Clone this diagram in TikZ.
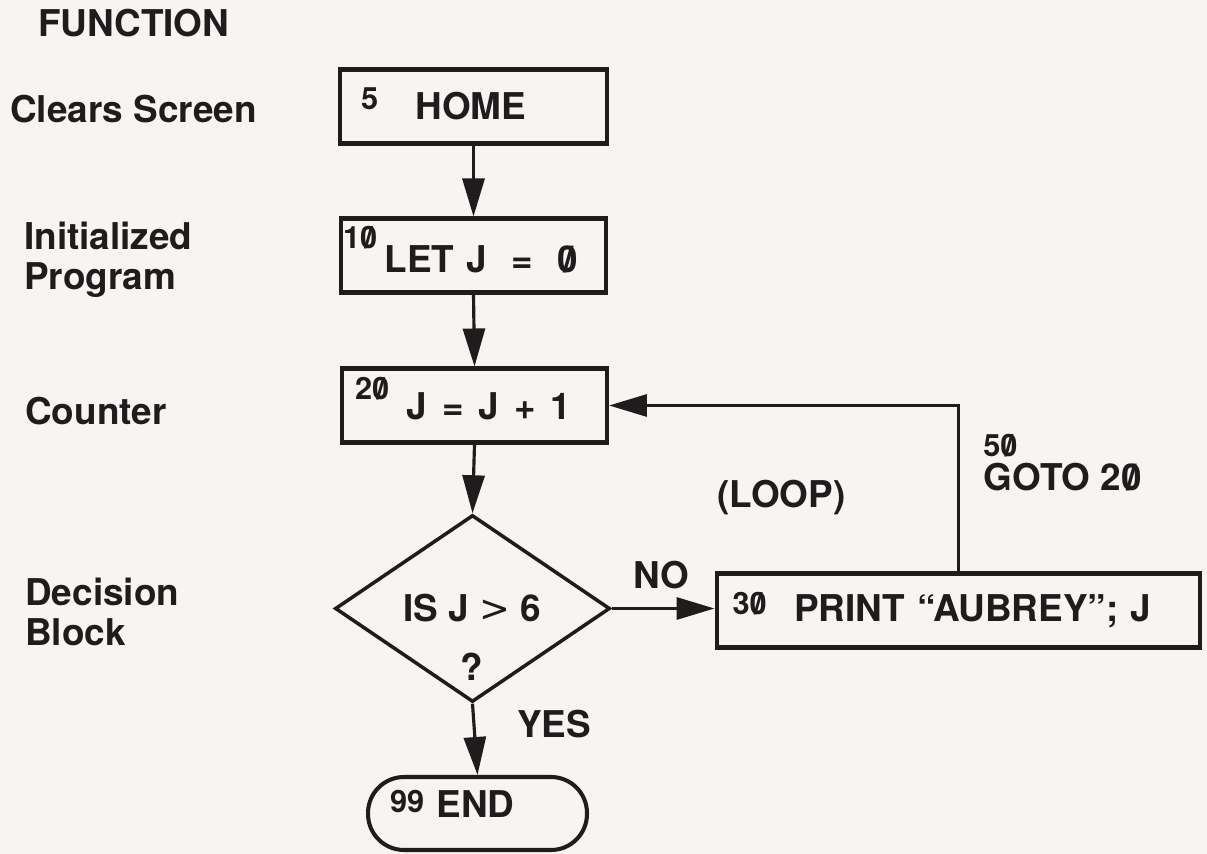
\documentclass[tikz,border=0pt]{standalone}
\usepackage{fontspec}
\setmainfont{TeX Gyre Heros}
\newfontfamily\symfont{DejaVu Sans}
\usetikzlibrary{arrows.meta,shapes.geometric}
\definecolor{paper}{RGB}{246,245,242}
\definecolor{ink}{RGB}{30,28,28}
\newcommand{\zr}{\ooalign{0\cr\hidewidth/\hidewidth\cr}}
\newcommand{\lno}[2]{\raisebox{#1}{\fontsize{17.5}{19}\selectfont #2}}

\begin{document}
\begin{tikzpicture}[x=0.02cm,y=-0.02cm,
every node/.style={text=ink,font=\bfseries\fontsize{21}{24}\selectfont},
stmt/.style={draw=ink,line width=2.3pt,minimum height=1.48cm,inner xsep=0.2cm,inner ysep=0pt,align=left,text depth=0pt},
decide/.style={diamond,draw=ink,line width=2pt,minimum width=5.5cm,minimum height=3.74cm,inner sep=0pt},
stop/.style={stmt,rounded corners=0.72cm,minimum height=1.46cm},
flow/.style={-{Triangle[length=0.76cm,width=0.44cm]},draw=ink,line width=1.8pt},
note/.style={anchor=base west,inner sep=0pt}]
\useasboundingbox (0,0) rectangle (1207,854);
\fill[paper] (0,0) rectangle (1207,854);
\node[note] (fn) at (38,37) {FUNCTION};
\node[note] (cls) at (10,123) {Clears Screen};
\node[note] (ini) at (24,250) {Initialized};
\node[note] (prg) at (24,290) {Program};
\node[note] (cnt) at (25,425) {Counter};
\node[note] (dcs) at (25,605) {Decision};
\node[note] (blk) at (25,645) {Block};
\node[stmt,text width=4.94cm,text height=0.54cm] (home) at (473.5,106.5)
  {\noindent\hspace*{0.22cm}\lno{0.2cm}{5}\hspace{0.75cm}HOME};
\node[stmt,text width=4.9cm,text height=0.7cm] (let) at (473.5,255.5)
  {\noindent\hspace*{-0.16cm}\lno{0.48cm}{1\zr}\hspace{0.15cm}LET J \ = \ \zr};
\node[stmt,text width=4.9cm,text height=0.58cm] (count) at (474.5,405.5)
  {\noindent\hspace*{0.06cm}\lno{0.42cm}{2\zr}\hspace{0.35cm}J\hspace{0.3cm}=\hspace{0.3cm}J\hspace{0.3cm}+\hspace{0.3cm}1};
\node[decide] (dec) at (472.5,608.5) {IS J {\symfont\mdseries >} 6};
\node[anchor=base,inner sep=0pt] (qm) at (472,680) {?};
\node[stmt,text width=9.28cm,text height=0.44cm] (print) at (958.5,610.5)
  {\noindent\hspace*{0.12cm}\lno{0.14cm}{3\zr}\hspace{0.55cm}PRINT “AUBREY”; J};
\node[stop,text width=3.98cm,text height=0.16cm] (end) at (477.5,813.5)
  {\noindent\hspace*{0.24cm}\lno{0.1cm}{99}\hspace{0.25cm}END};
\node[note] (no) at (633,588) {NO};
\node[note] (loop) at (717,508) {(LOOP)};
\node[note] (g50) at (983,457) {\lno{0pt}{5\zr}};
\node[note] (g20) at (983,491) {GOTO 2\zr};
\node[note] (yes) at (517,737) {YES};
\foreach \a/\b in {home/let,let/count,count/dec,dec/end}
  \draw[flow] (\a.south) -- (\b.north);
\draw[flow] (dec.east) -- (dec.east -| print.west);
\draw[flow] (print.north) |- (count.east);
\end{tikzpicture}
\end{document}
